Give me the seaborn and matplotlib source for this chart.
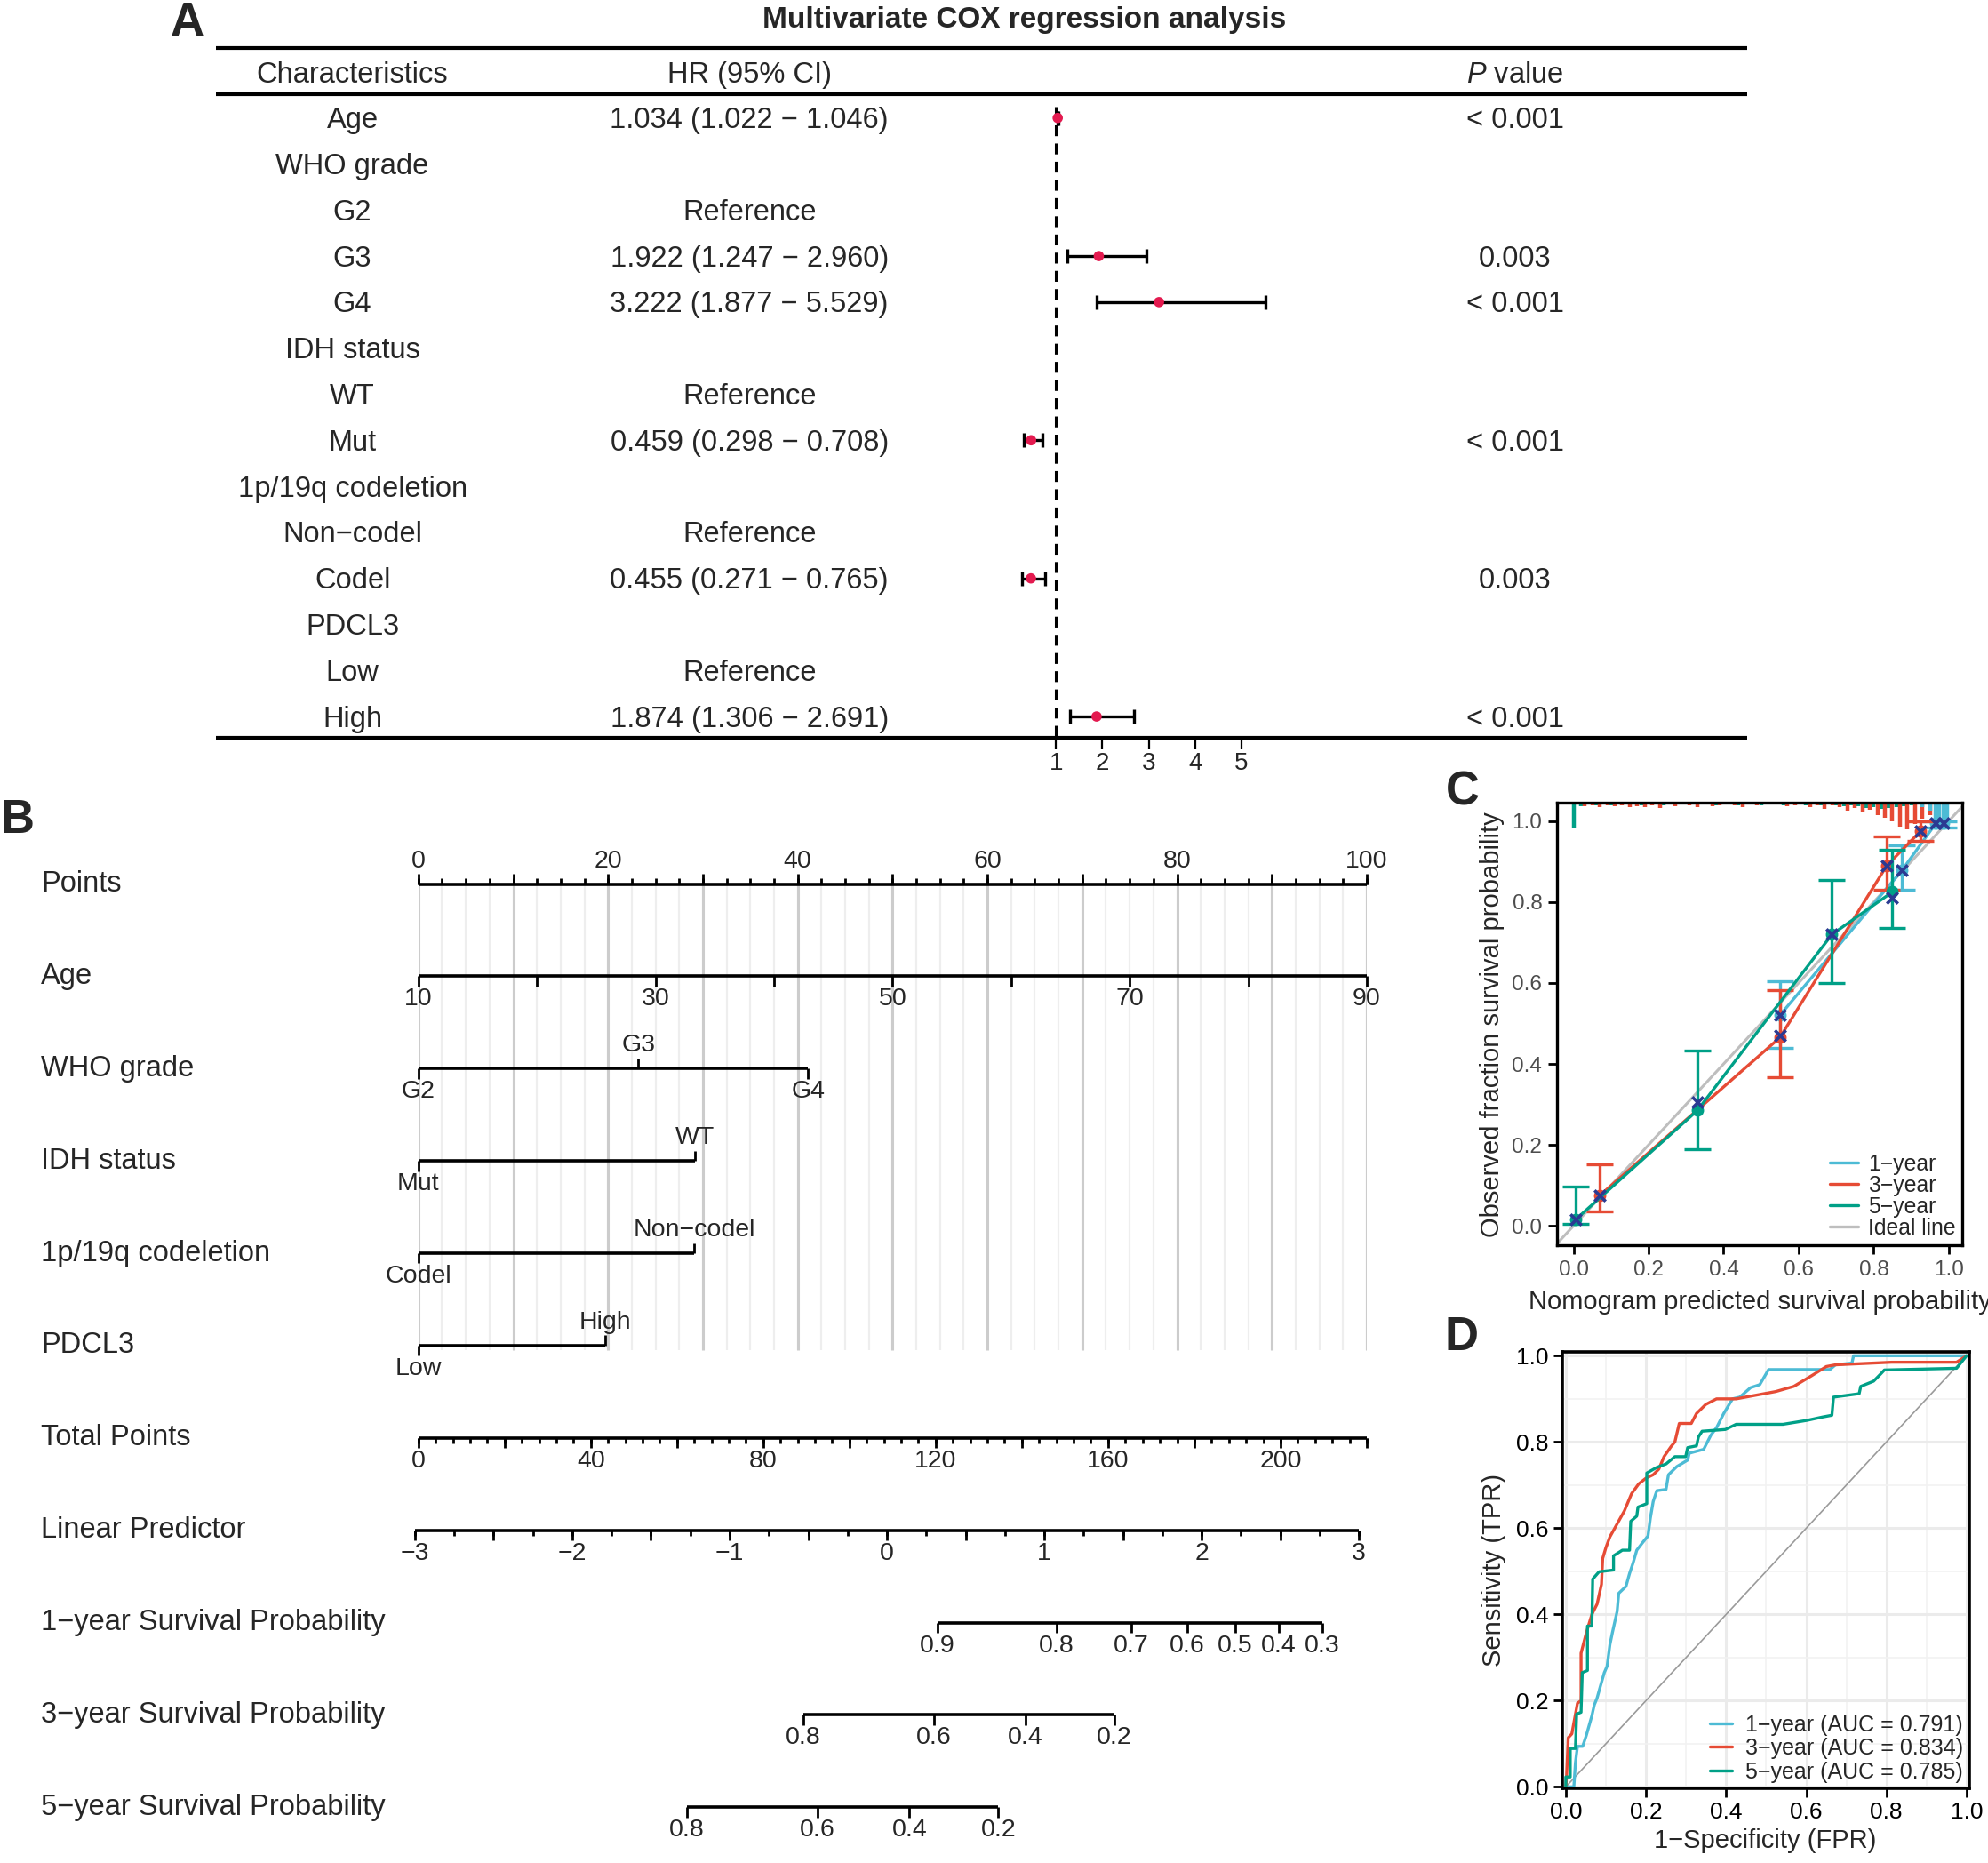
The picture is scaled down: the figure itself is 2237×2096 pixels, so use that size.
import numpy as np
import pandas as pd
import matplotlib
matplotlib.use('Agg')
import matplotlib.pyplot as plt
import matplotlib.transforms as mtransforms
from matplotlib.lines import Line2D
import seaborn as sns

sns.set_theme(style='white')
plt.rcParams['font.family'] = ['Liberation Sans', 'DejaVu Sans']
plt.rcParams['mathtext.fontset'] = 'custom'
plt.rcParams['mathtext.rm'] = 'Liberation Sans'
plt.rcParams['mathtext.it'] = 'Liberation Sans:italic'

#====================================================================================================
# A: multivariate Cox table
cox_labels = ['Age', 'WHO grade', 'G2', 'G3', 'G4', 'IDH status', 'WT', 'Mut',
              '1p/19q codeletion', 'Non\u2212codel', 'Codel', 'PDCL3', 'Low', 'High']
cox_hr_text = ['1.034 (1.022 \u2212 1.046)', '', 'Reference', '1.922 (1.247 \u2212 2.960)',
               '3.222 (1.877 \u2212 5.529)', '', 'Reference', '0.459 (0.298 \u2212 0.708)',
               '', 'Reference', '0.455 (0.271 \u2212 0.765)', '', 'Reference',
               '1.874 (1.306 \u2212 2.691)']
cox_p = ['< 0.001', '', '', '0.003', '< 0.001', '', '', '< 0.001', '', '', '0.003', '', '', '< 0.001']
cox_hr = [1.034, None, None, 1.922, 3.222, None, None, 0.459, None, None, 0.455, None, None, 1.874]
cox_lo = [1.022, None, None, 1.247, 1.877, None, None, 0.298, None, None, 0.271, None, None, 1.306]
cox_hi = [1.046, None, None, 2.960, 5.529, None, None, 0.708, None, None, 0.765, None, None, 2.691]
hr_ticks = [1, 2, 3, 4, 5]

# B: nomogram (positions in points, total points)
age_ticks = [10, 20, 30, 40, 50, 60, 70, 80, 90]
age_labels = [10, 30, 50, 70, 90]
who_levels = ['G2', 'G3', 'G4']
who_points = [0, 23.2, 41.1]
idh_levels = ['Mut', 'WT']
idh_points = [0, 29.2]
codel_levels = ['Codel', 'Non\u2212codel']
codel_points = [0, 29.1]
pdcl3_levels = ['Low', 'High']
pdcl3_points = [0, 19.7]
total_max = 220
lp_zero_total = 108.7
lp_per_unit = 36.5
surv1_labels = ['0.9', '0.8', '0.7', '0.6', '0.5', '0.4', '0.3']
surv1_total = [120.4, 148.0, 165.3, 178.3, 189.5, 199.6, 209.7]
surv3_labels = ['0.8', '0.6', '0.4', '0.2']
surv3_total = [89.3, 119.6, 140.8, 161.5]
surv5_labels = ['0.8', '0.6', '0.4', '0.2']
surv5_total = [62.3, 92.6, 113.9, 134.5]

# C: calibration
cal_1y_pred = [0.55, 0.876, 0.966, 0.985]
cal_1y_obs = [0.52, 0.879, 0.995, 0.995]
cal_1y_lo = [0.44, 0.831, 0.985, 0.985]
cal_1y_hi = [0.605, 0.939, 1.0, 1.0]
cal_1y_corr = [0.52, 0.878, 0.995, 0.995]
cal_3y_pred = [0.07, 0.55, 0.835, 0.925]
cal_3y_obs = [0.075, 0.465, 0.89, 0.975]
cal_3y_lo = [0.035, 0.368, 0.83, 0.951]
cal_3y_hi = [0.152, 0.583, 0.963, 1.0]
cal_3y_corr = [0.075, 0.47, 0.89, 0.975]
cal_5y_pred = [0.005, 0.33, 0.689, 0.85]
cal_5y_obs = [0.015, 0.285, 0.72, 0.825]
cal_5y_lo = [0.005, 0.19, 0.60, 0.735]
cal_5y_hi = [0.098, 0.433, 0.855, 0.93]
cal_5y_corr = [0.015, 0.305, 0.72, 0.81]
rug_3y = [0.004, 0.009, 0.006, 0.010, 0.007, 0.009, 0.006, 0.011, 0.008, 0.010,
          0.007, 0.012, 0.005, 0.009, 0.004, 0.006, 0.010, 0.005, 0.008, 0.006,
          0.003, 0.007, 0.011, 0.004, 0.006, 0.003, 0.005, 0.004, 0.008, 0.006,
          0.005, 0.011, 0.006, 0.014, 0.007, 0.010, 0.020, 0.012, 0.022, 0.018,
          0.030, 0.038, 0.045, 0.058, 0.066, 0.052, 0.040, 0.030, 0.018, 0.006]
rug_5y = [0.060, 0.008, 0.005, 0.006, 0.004, 0.006, 0.003, 0.005, 0.004, 0.006,
          0.003, 0.004, 0.006, 0.003, 0.005, 0.004, 0.003, 0.005, 0.004, 0.006,
          0.005, 0.004, 0.006, 0.005, 0.004, 0.006, 0.005, 0.004, 0.006, 0.004,
          0.005, 0.006, 0.004, 0.007, 0.005, 0.006, 0.008, 0.007, 0.009, 0.012,
          0.010, 0.014, 0.012, 0.010, 0.008, 0.006, 0.005, 0.004, 0.003, 0.002]
rug_1y_x = [0.93, 0.95, 0.965, 0.975, 0.985, 0.995]
rug_1y = [0.010, 0.020, 0.050, 0.060, 0.060, 0.055]

# D: ROC curves
fpr_1 = [0, 0.02, 0.024, 0.029, 0.042, 0.051, 0.065, 0.071, 0.078, 0.087,
         0.096, 0.103, 0.11, 0.116, 0.128, 0.132, 0.15, 0.159, 0.168, 0.177,
         0.191, 0.205, 0.211, 0.218, 0.227, 0.25, 0.256, 0.277, 0.304, 0.308,
         0.344, 0.362, 0.376, 0.394, 0.416, 0.434, 0.461, 0.484, 0.506, 0.659,
         0.673, 0.714, 0.718, 1.0]
tpr_1 = [0, 0, 0.056, 0.094, 0.094, 0.119, 0.165, 0.19, 0.206, 0.236,
         0.265, 0.28, 0.33, 0.357, 0.407, 0.449, 0.465, 0.495, 0.52, 0.549,
         0.566, 0.582, 0.624, 0.662, 0.687, 0.69, 0.724, 0.743, 0.758, 0.774,
         0.783, 0.816, 0.833, 0.866, 0.9, 0.904, 0.926, 0.933, 0.968, 0.968,
         0.979, 0.983, 1.0, 1.0]
fpr_3 = [0, 0.002, 0.006, 0.015, 0.029, 0.038, 0.038, 0.051, 0.065, 0.078,
         0.089, 0.092, 0.10, 0.11, 0.128, 0.146, 0.164, 0.182, 0.20, 0.218,
         0.232, 0.245, 0.263, 0.272, 0.283, 0.313, 0.326, 0.349, 0.376, 0.425,
         0.524, 0.569, 0.614, 0.65, 0.673, 0.813, 0.822, 0.975, 1.0]
tpr_3 = [0, 0.027, 0.114, 0.123, 0.194, 0.20, 0.31, 0.357, 0.40, 0.424,
         0.47, 0.53, 0.555, 0.58, 0.61, 0.64, 0.68, 0.703, 0.716, 0.724,
         0.737, 0.766, 0.79, 0.80, 0.843, 0.843, 0.866, 0.887, 0.9, 0.9,
         0.917, 0.929, 0.954, 0.975, 0.979, 0.985, 0.985, 0.985, 1.0]
fpr_5 = [0, 0, 0.011, 0.011, 0.024, 0.027, 0.038, 0.041, 0.054, 0.054,
         0.065, 0.067, 0.083, 0.119, 0.119, 0.141, 0.159, 0.162, 0.177, 0.18,
         0.191, 0.202, 0.202, 0.227, 0.25, 0.272, 0.299, 0.304, 0.326, 0.331,
         0.34, 0.398, 0.425, 0.542, 0.601, 0.641, 0.664, 0.668, 0.732, 0.736,
         0.768, 0.786, 0.795, 0.975, 1.0]
tpr_5 = [0, 0.023, 0.023, 0.089, 0.089, 0.169, 0.173, 0.265, 0.27, 0.373,
         0.373, 0.482, 0.499, 0.503, 0.536, 0.549, 0.549, 0.616, 0.628, 0.649,
         0.653, 0.657, 0.728, 0.741, 0.749, 0.766, 0.766, 0.787, 0.791, 0.812,
         0.825, 0.829, 0.841, 0.841, 0.85, 0.858, 0.862, 0.904, 0.912, 0.929,
         0.941, 0.958, 0.967, 0.971, 1.0]
auc_labels = ['1\u2212year (AUC = 0.791)', '3\u2212year (AUC = 0.834)', '5\u2212year (AUC = 0.785)']

col_1y = '#4DBBD5'
col_3y = '#E64B35'
col_5y = '#00A087'
col_x = '#2B3A92'

#====================================================================================================
W_REF, H_REF = 1568.0, 1469.0
fig = plt.figure(figsize=(22.37, 20.96), dpi=100)


def add_ax(x0, y0, x1, y1):
    return fig.add_axes([x0 / W_REF, 1 - y1 / H_REF, (x1 - x0) / W_REF, (y1 - y0) / H_REF])


def panel_letter(x, y, s):
    fig.text(x / W_REF, 1 - y / H_REF, s, fontsize=38, fontweight='bold', ha='center', va='center')


#----------------------------------------------------------------------------------------------------
# Panel A
y_top, y_bot = -1.515, 13.47
axt = add_ax(170, 38, 1378, 582)
axt.set_xlim(0, 1)
axt.set_ylim(y_bot, y_top)
axt.axis('off')
for yy in [y_top, -0.52, y_bot]:
    axt.plot([0, 1], [yy, yy], color='black', lw=3, clip_on=False, solid_capstyle='butt')
fs_a = 23.5
dy = 0.06
axt.text(0.0894, -1 + dy, 'Characteristics', ha='center', va='center', fontsize=fs_a)
axt.text(0.3485, -1 + dy, 'HR (95% CI)', ha='center', va='center', fontsize=fs_a)
axt.text(0.8485, -1 + dy, r'$P$ value', ha='center', va='center', fontsize=fs_a)
axt.text(0.528, -2.13, 'Multivariate COX regression analysis', ha='center', va='center',
         fontsize=24, fontweight='bold')
for i, (lab, hrt, p) in enumerate(zip(cox_labels, cox_hr_text, cox_p)):
    axt.text(0.0894, i + dy, lab, ha='center', va='center', fontsize=fs_a)
    axt.text(0.3485, i + dy, hrt, ha='center', va='center', fontsize=fs_a)
    axt.text(0.8485, i + dy, p, ha='center', va='center', fontsize=fs_a)

axf = add_ax(796.5, 38, 1015.5, 582)
axf.set_xlim(0, 6)
axf.set_ylim(y_bot, y_top)
axf.patch.set_alpha(0)
for s in axf.spines.values():
    s.set_visible(False)
axf.plot([1, 1], [-0.25, y_bot], color='black', lw=2.2, linestyle=(0, (4, 2.7)))
forest = pd.DataFrame({'row': range(len(cox_hr)), 'hr': cox_hr, 'lo': cox_lo, 'hi': cox_hi}).dropna()
forest = forest.astype(float)
axf.errorbar(forest['hr'], forest['row'],
             xerr=[forest['hr'] - forest['lo'], forest['hi'] - forest['hr']],
             fmt='none', ecolor='black', elinewidth=2.4, capsize=5.5, capthick=2.4)
sns.scatterplot(data=forest, x='hr', y='row', ax=axf, color='#E31A4F', s=70,
                edgecolor='none', zorder=5, legend=False)
axf.set_ylim(y_bot, y_top)
axf.set_xlabel('')
axf.set_ylabel('')
axf.set_xticks(hr_ticks)
axf.set_xticklabels([str(t) for t in hr_ticks])
axf.set_yticks([])
axf.tick_params(axis='x', bottom=True, direction='out', length=9, width=1.6, pad=2,
                labelsize=20, color='black')
panel_letter(148, 18, 'A')

#----------------------------------------------------------------------------------------------------
# Panel B nomogram
axn = add_ax(330, 640, 1078, 1460)
axn.set_xlim(0, 100)
axn.set_ylim(10.48, -0.783)
axn.axis('off')
fs_lab = 23.5
fs_tick = 20.5
lw_axis = 2.6
lw_tick = 2.0
maj_len = 0.11
min_len = 0.06
lab_off = 0.25

row_names = ['Points', 'Age', 'WHO grade', 'IDH status', '1p/19q codeletion', 'PDCL3',
             'Total Points', 'Linear Predictor', '1\u2212year Survival Probability',
             '3\u2212year Survival Probability', '5\u2212year Survival Probability']
trans_lab = mtransforms.blended_transform_factory(axn.transAxes, axn.transData)
for i, nm in enumerate(row_names):
    axn.text(-0.398, i, nm, transform=trans_lab, ha='left', va='center', fontsize=fs_lab, clip_on=False)

# grid lines
axn.vlines(np.arange(0, 100.01, 2.5), 0, 5.05, color='#EEEEEE', lw=1.6, zorder=0)
axn.vlines(np.arange(0, 100.01, 10), 0, 5.05, color='#CCCCCC', lw=2.2, zorder=0)


def scale_line(y, lo, hi):
    axn.plot([lo, hi], [y, y], color='black', lw=lw_axis, solid_capstyle='butt', zorder=3, clip_on=False)


def ticks(y, xs, length, up):
    sgn = -1 if up else 1
    axn.vlines(xs, y, y + sgn * length, color='black', lw=lw_tick, zorder=3, clip_on=False)


def tick_labels(y, xs, labs, up):
    sgn = -1 if up else 1
    for x, l in zip(xs, labs):
        axn.text(x, y + sgn * lab_off, l, ha='center', va='center', fontsize=fs_tick, clip_on=False)


# Points
scale_line(0, 0, 100)
ticks(0, np.arange(0, 100.01, 2.5), min_len, True)
ticks(0, np.arange(0, 100.01, 10), maj_len, True)
tick_labels(0, np.arange(0, 101, 20), [str(v) for v in range(0, 101, 20)], True)

# Age
age_to_pts = lambda a: (np.asarray(a, dtype=float) - 10) * 100 / 80
scale_line(1, 0, 100)
ticks(1, age_to_pts(age_ticks), maj_len, False)
tick_labels(1, age_to_pts(age_labels), [str(a) for a in age_labels], False)


def categorical(y, levels, pts, sides):
    scale_line(y, min(pts), max(pts))
    for lev, p, up in zip(levels, pts, sides):
        ticks(y, [p], maj_len, up)
        tick_labels(y, [p], [lev], up)


categorical(2, who_levels, who_points, [False, True, False])
categorical(3, idh_levels, idh_points, [False, True])
categorical(4, codel_levels, codel_points, [False, True])
categorical(5, pdcl3_levels, pdcl3_points, [False, True])

# Total points
tot_to_pts = lambda t: np.asarray(t, dtype=float) * 100 / total_max
scale_line(6, 0, 100)
ticks(6, tot_to_pts(np.arange(0, 220.1, 4)), min_len, False)
ticks(6, tot_to_pts(np.arange(0, 220.1, 20)), maj_len, False)
tick_labels(6, tot_to_pts(np.arange(0, 201, 40)), [str(v) for v in range(0, 201, 40)], False)

# Linear predictor
lp_to_pts = lambda l: tot_to_pts(lp_zero_total + np.asarray(l, dtype=float) * lp_per_unit)
scale_line(7, lp_to_pts(-3), lp_to_pts(3))
ticks(7, lp_to_pts(np.arange(-3, 3.01, 0.25)), min_len, False)
ticks(7, lp_to_pts(np.arange(-3, 3.01, 0.5)), maj_len, False)
tick_labels(7, lp_to_pts(np.arange(-3, 4)), ['\u22123', '\u22122', '\u22121', '0', '1', '2', '3'], False)

# Survival probability scales
for y, tot, labs in [(8, surv1_total, surv1_labels), (9, surv3_total, surv3_labels),
                     (10, surv5_total, surv5_labels)]:
    xs = tot_to_pts(tot)
    scale_line(y, xs.min(), xs.max())
    ticks(y, xs, maj_len, False)
    tick_labels(y, xs, labs, False)

panel_letter(14, 647, 'B')

#----------------------------------------------------------------------------------------------------
# Panel C calibration
axc = add_ax(1228, 633, 1548, 982)
xl_c = (-0.044, 1.037)
yl_c = (-0.048, 1.045)
axc.plot([-0.1, 1.1], [-0.1, 1.1], color='#BEBEBE', lw=2.2, zorder=1)

rug_x3 = np.round(np.arange(0.01, 1.0, 0.02), 3)
rug_x5 = np.round(np.arange(0.0, 0.99, 0.02), 3)
axc.vlines(rug_x5, yl_c[1] - np.array(rug_5y), yl_c[1], color=col_5y, lw=3.2, zorder=2)
axc.vlines(rug_x3, yl_c[1] - np.array(rug_3y), yl_c[1], color=col_3y, lw=3.2, zorder=2)
axc.vlines(rug_1y_x, yl_c[1] - np.array(rug_1y), yl_c[1], color=col_1y, lw=3.2, zorder=2)

cal_sets = [
    ('1\u2212year', col_1y, cal_1y_pred, cal_1y_obs, cal_1y_lo, cal_1y_hi),
    ('3\u2212year', col_3y, cal_3y_pred, cal_3y_obs, cal_3y_lo, cal_3y_hi),
    ('5\u2212year', col_5y, cal_5y_pred, cal_5y_obs, cal_5y_lo, cal_5y_hi),
]
for k, (nm, col, pr, ob, lo, hi) in enumerate(cal_sets):
    df = pd.DataFrame({'pred': pr, 'obs': ob, 'lo': lo, 'hi': hi})
    axc.errorbar(df['pred'], df['obs'], yerr=[df['obs'] - df['lo'], df['hi'] - df['obs']],
                 fmt='none', ecolor=col, elinewidth=2.4, capsize=11, capthick=2.4, zorder=3 + k)
    sns.lineplot(data=df, x='pred', y='obs', ax=axc, color=col, lw=2.4, marker='o',
                 markersize=10, markeredgewidth=0, sort=False, estimator=None, zorder=3 + k)
corr = pd.DataFrame({'pred': cal_1y_pred + cal_3y_pred + cal_5y_pred,
                     'corr': cal_1y_corr + cal_3y_corr + cal_5y_corr})
axc.scatter(corr['pred'], corr['corr'], marker='x', s=80, linewidths=2.6, color=col_x, zorder=8)

axc.set_xlim(*xl_c)
axc.set_ylim(*yl_c)
axc.set_xticks([0, 0.2, 0.4, 0.6, 0.8, 1.0])
axc.set_yticks([0, 0.2, 0.4, 0.6, 0.8, 1.0])
axc.set_xticklabels(['0.0', '0.2', '0.4', '0.6', '0.8', '1.0'])
axc.set_yticklabels(['0.0', '0.2', '0.4', '0.6', '0.8', '1.0'])
axc.tick_params(axis='both', direction='out', length=7, width=2, color='black',
                labelsize=17.5, labelcolor='#4D4D4D', bottom=True, left=True, pad=5)
for s in axc.spines.values():
    s.set_linewidth(2.4)
    s.set_color('black')
axc.set_xlabel('Nomogram predicted survival probability', fontsize=21, labelpad=8)
axc.set_ylabel('Observed fraction survival probability', fontsize=21, labelpad=6)
h_c = [Line2D([], [], color=col_1y, lw=2.4), Line2D([], [], color=col_3y, lw=2.4),
       Line2D([], [], color=col_5y, lw=2.4), Line2D([], [], color='#BEBEBE', lw=2.4)]
axc.legend(h_c, ['1\u2212year', '3\u2212year', '5\u2212year', 'Ideal line'], loc='lower right',
           frameon=False, fontsize=17.8, handlelength=1.3, handletextpad=0.45,
           labelspacing=0.0, borderaxespad=0.2, borderpad=0.1)
panel_letter(1154, 625, 'C')

#----------------------------------------------------------------------------------------------------
# Panel D ROC
axd = add_ax(1232, 1066, 1553, 1410)
axd.set_xlim(-0.0095, 1.006)
axd.set_ylim(-0.003, 1.009)
axd.set_xticks(np.arange(0, 1.01, 0.2))
axd.set_yticks(np.arange(0, 1.01, 0.2))
axd.set_xticks(np.arange(0.1, 1.0, 0.2), minor=True)
axd.set_yticks(np.arange(0.1, 1.0, 0.2), minor=True)
axd.grid(which='major', color='#EBEBEB', lw=2.2)
axd.grid(which='minor', color='#F2F2F2', lw=1.2)
axd.set_axisbelow(True)
axd.plot([0, 1], [0, 1], color='#9A9A9A', lw=1.2, zorder=1)
roc = pd.concat([
    pd.DataFrame({'fpr': fpr_1, 'tpr': tpr_1, 'curve': auc_labels[0]}),
    pd.DataFrame({'fpr': fpr_3, 'tpr': tpr_3, 'curve': auc_labels[1]}),
    pd.DataFrame({'fpr': fpr_5, 'tpr': tpr_5, 'curve': auc_labels[2]}),
], ignore_index=True)
sns.lineplot(data=roc, x='fpr', y='tpr', hue='curve', palette=[col_1y, col_3y, col_5y],
             sort=False, estimator=None, lw=2.4, ax=axd, legend=False)
axd.set_xticklabels(['0.0', '0.2', '0.4', '0.6', '0.8', '1.0'])
axd.set_yticklabels(['0.0', '0.2', '0.4', '0.6', '0.8', '1.0'])
axd.tick_params(axis='both', which='major', direction='out', length=7, width=2, color='black',
                labelsize=19, labelcolor='black', bottom=True, left=True, pad=4)
axd.tick_params(axis='both', which='minor', length=0)
for s in axd.spines.values():
    s.set_linewidth(2.6)
    s.set_color('black')
axd.set_xlabel('1\u2212Specificity (FPR)', fontsize=21, labelpad=4)
axd.set_ylabel('Sensitivity (TPR)', fontsize=21, labelpad=8)
h_d = [Line2D([], [], color=c, lw=2.4) for c in [col_1y, col_3y, col_5y]]
axd.legend(h_d, auc_labels, loc='lower right', frameon=False, fontsize=18, handlelength=1.0,
           handletextpad=0.6, labelspacing=0.1, borderaxespad=0.15, borderpad=0.1)
panel_letter(1153, 1055, 'D')

fig.savefig('out.png', dpi=100)
